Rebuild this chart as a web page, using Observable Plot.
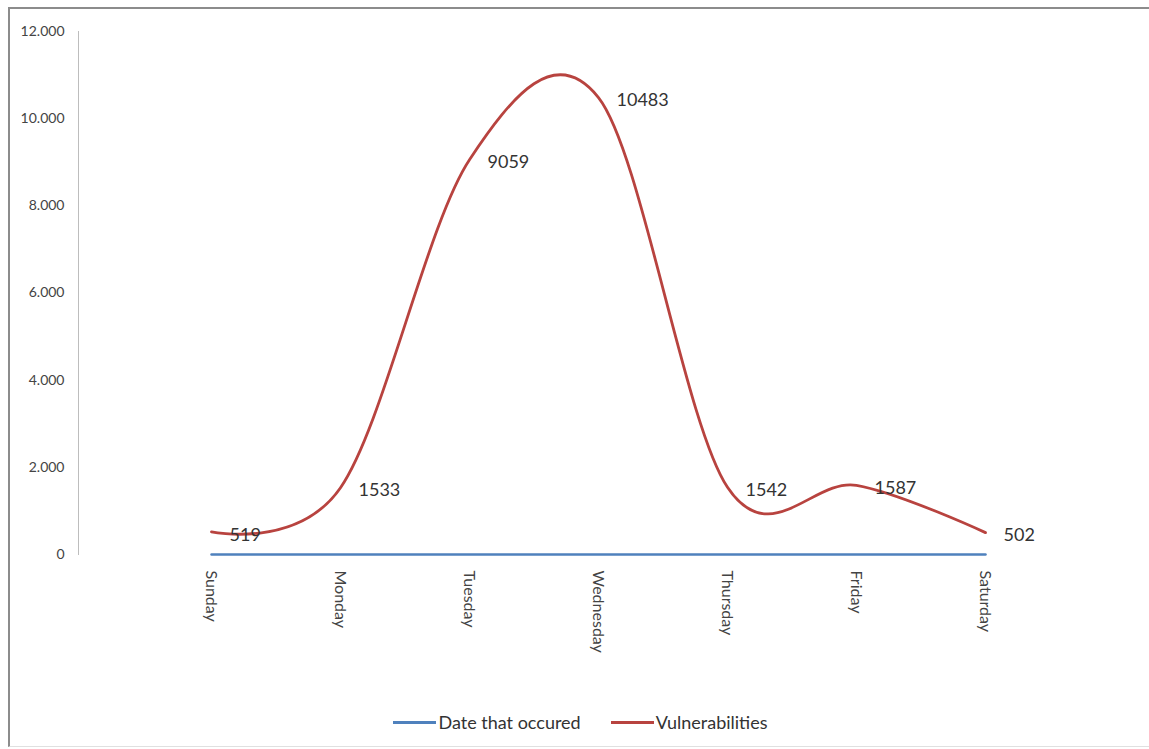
<!DOCTYPE html>
<html>
<head>
<meta charset="utf-8">
<script src="https://cdn.jsdelivr.net/npm/d3@7"></script>
<script src="https://cdn.jsdelivr.net/npm/@observablehq/plot@0.6"></script>
<style>
  html, body { margin: 0; padding: 0; background: #fff; }
  body { width: 1149px; height: 749px; position: relative; overflow: hidden; font-family: Lato, "Open Sans", sans-serif; }
  #border { position: absolute; left: 8px; top: 7px; width: 1160px; height: 740px; border-left: 2px solid #8c8c8c; border-top: 2px solid #8c8c8c; border-bottom: 1px solid #e0e0e0; box-sizing: border-box; }
  #chart { position: absolute; left: 0; top: 0; }
  #legend { position: absolute; left: 0; width: 1149px; top: 711px; display: flex; justify-content: center; gap: 30px; font-size: 18px; color: #333; padding-left: 12px; box-sizing: border-box; }
  .item { display: flex; align-items: center; }
  .sw { display: inline-block; width: 43px; height: 3px; margin-right: 2px; }
</style>
</head>
<body>
<div id="border"></div>
<div id="chart"></div>
<div id="legend"></div>
<script>
const days = ["Sunday", "Monday", "Tuesday", "Wednesday", "Thursday", "Friday", "Saturday"];
const vulnerabilities = [519, 1533, 9059, 10483, 1542, 1587, 502];
const dateOccured = [0, 0, 0, 0, 0, 0, 0];
const seriesNames = ["Date that occured", "Vulnerabilities"];
const seriesColors = ["#4f81bd", "#b8433f"];
const yTicks = [0, 2000, 4000, 6000, 8000, 10000, 12000];

const vulnData = days.map((d, i) => ({day: d, value: vulnerabilities[i]}));
const dateData = days.map((d, i) => ({day: d, value: dateOccured[i]}));

const fmt = v => d3.format(",")(v).replace(/,/g, ".");

const chart = Plot.plot({
  width: 1149,
  height: 690,
  marginTop: 31,
  marginBottom: 136,
  marginLeft: 78,
  marginRight: 164,
  style: {fontFamily: "Lato, 'Open Sans', sans-serif", background: "transparent", color: "#444"},
  x: {type: "point", domain: days, insetLeft: 132, padding: 0, label: null},
  y: {domain: [0, 12000], label: null},
  marks: [
    Plot.frame({anchor: "left", stroke: "#bdbdbd"}),
    Plot.axisY({anchor: "left", ticks: yTicks, tickSize: 0, tickPadding: 14, tickFormat: fmt, fontSize: 14, fill: "#444", label: null}),
    Plot.axisX({anchor: "bottom", tickRotate: 90, tickSize: 0, tickPadding: 16, fontSize: 16, fill: "#444", label: null}),
    Plot.line(dateData, {x: "day", y: "value", stroke: seriesColors[0], strokeWidth: 2.5}),
    Plot.line(vulnData, {x: "day", y: "value", stroke: seriesColors[1], strokeWidth: 2.8, curve: "cardinal"}),
    Plot.text(vulnData, {x: "day", y: "value", text: d => String(d.value), textAnchor: "start", dx: 18, dy: 3, fontSize: 18, fill: "#333"})
  ]
});
document.getElementById("chart").appendChild(chart);

const legend = document.getElementById("legend");
seriesNames.forEach((n, i) => {
  const item = document.createElement("div");
  item.className = "item";
  const sw = document.createElement("span");
  sw.className = "sw";
  sw.style.background = seriesColors[i];
  const t = document.createElement("span");
  t.textContent = n;
  item.appendChild(sw);
  item.appendChild(t);
  legend.appendChild(item);
});
</script>
</body>
</html>
